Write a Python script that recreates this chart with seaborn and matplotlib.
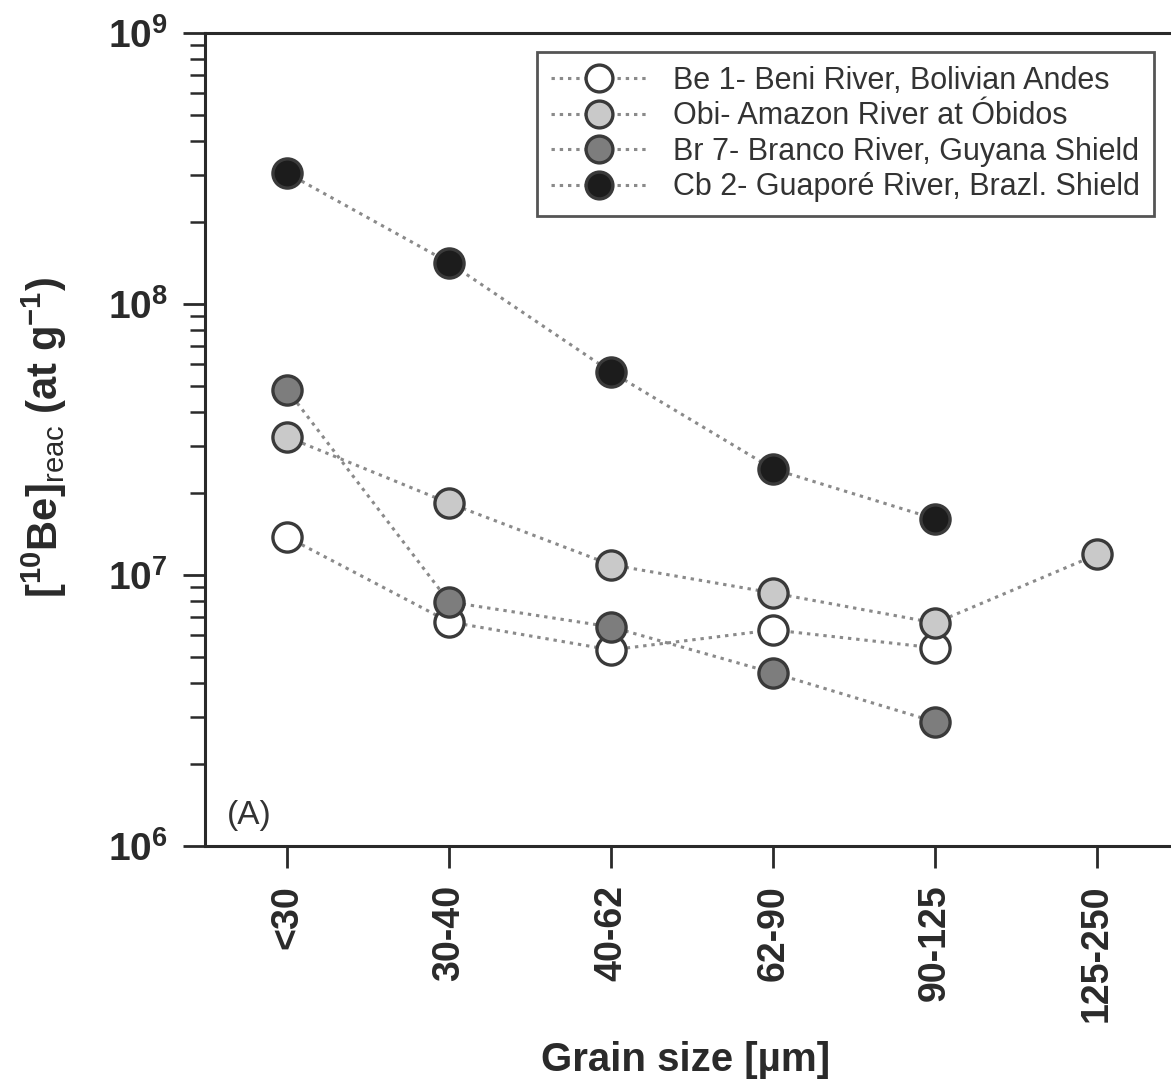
import numpy as np
import pandas as pd
import matplotlib
matplotlib.use("Agg")
import matplotlib.pyplot as plt
from matplotlib.ticker import LogLocator, FixedLocator, NullFormatter
import seaborn as sns

# Grain-size classes (µm) and reactive 10Be concentrations (at/g)
grain_sizes = ["<30", "30-40", "40-62", "62-90", "90-125", "125-250"]

be1 = [1.38e7, 6.71e6, 5.29e6, 6.27e6, 5.38e6]            # Be 1 - Beni River
obi = [3.23e7, 1.84e7, 1.09e7, 8.58e6, 6.65e6, 1.19e7]    # Obi - Amazon at Óbidos
br7 = [4.82e7, 7.95e6, 6.43e6, 4.35e6, 2.87e6]            # Br 7 - Branco River
cb2 = [3.04e8, 1.42e8, 5.61e7, 2.46e7, 1.61e7]            # Cb 2 - Guaporé River

series_labels = [
    "Be 1- Beni River, Bolivian Andes",
    "Obi- Amazon River at Óbidos",
    "Br 7- Branco River, Guyana Shield",
    "Cb 2- Guaporé River, Brazl. Shield",
]
series_values = [be1, obi, br7, cb2]
fill_colors = ["#ffffff", "#c9c9c9", "#7d7d7d", "#1c1c1c"]

rows = []
for lab, vals in zip(series_labels, series_values):
    for i, v in enumerate(vals):
        rows.append({"series": lab, "pos": i, "grain": grain_sizes[i], "conc": v})
df = pd.DataFrame(rows)

sns.set_theme(style="ticks")
plt.rcParams["font.family"] = ["Liberation Sans", "DejaVu Sans"]
plt.rcParams["mathtext.fontset"] = "custom"
plt.rcParams["mathtext.rm"] = "Liberation Sans"
plt.rcParams["mathtext.it"] = "Liberation Sans:italic"
plt.rcParams["mathtext.bf"] = "Liberation Sans:bold"

ink = "#2a2a2a"
fig = plt.figure(figsize=(11.71, 10.84), dpi=100)
ax = fig.add_axes([0.1751, 0.2196, 0.8260, 0.7500])

for lab, col in zip(series_labels, fill_colors):
    sub = df[df["series"] == lab]
    sns.lineplot(
        data=sub, x="pos", y="conc", ax=ax, label=lab,
        color="#8a8a8a", linewidth=2.2, linestyle=(0, (1.1, 1.6)),
        marker="o", markersize=21, markerfacecolor=col,
        markeredgecolor="#3a3a3a", markeredgewidth=2.4,
        sort=False, estimator=None, errorbar=None,
    )

ax.set_yscale("log")
ax.set_ylim(1e6, 1e9)
ax.set_xlim(-0.507, 5.464)

ax.yaxis.set_minor_locator(LogLocator(base=10, subs=np.arange(2, 10), numticks=20))
ax.yaxis.set_minor_formatter(NullFormatter())
ax.set_yticks([1e6, 1e7, 1e8, 1e9])
ax.set_yticklabels([r"$\mathbf{10^{%d}}$" % e for e in (6, 7, 8, 9)])

ax.xaxis.set_major_locator(FixedLocator(range(len(grain_sizes))))
ax.set_xticklabels(grain_sizes, rotation=90, fontsize=27, fontweight="bold", color=ink)

ax.tick_params(axis="y", which="major", length=16, width=2.0, color=ink,
               labelsize=28, labelcolor=ink, pad=11, direction="out")
ax.tick_params(axis="y", which="minor", length=11, width=1.8, color=ink, direction="out")
ax.tick_params(axis="x", which="major", length=16, width=2.0, color=ink,
               pad=12, direction="out")
ax.tick_params(axis="x", which="minor", bottom=False)

for side in ("left", "bottom", "top"):
    ax.spines[side].set_linewidth(2.2)
    ax.spines[side].set_color(ink)
ax.spines["right"].set_visible(False)

ax.set_xlabel("Grain size [µm]", fontsize=29, fontweight="bold", color=ink)
ax.xaxis.set_label_coords(0.497, -0.240)
ax.set_ylabel(r"$\mathbf{[^{10}Be]}_{\mathrm{reac}}\ \mathbf{(at\ g^{-1})}$",
              fontsize=30, color=ink)
ax.yaxis.set_label_coords(-0.141, 0.503)

ax.text(0.023, 0.018, "(A)", transform=ax.transAxes, fontsize=24,
        color="#333333", ha="left", va="bottom")

leg = ax.legend(
    loc="upper left", bbox_to_anchor=(0.3437, 0.9766), fontsize=22,
    frameon=True, fancybox=False, edgecolor="#555555", framealpha=1,
    handlelength=3.1, handletextpad=0.9, borderpad=0.45, labelspacing=0.18,
    markerscale=0.92, borderaxespad=0,
)
leg.get_frame().set_linewidth(2.0)
for t in leg.get_texts():
    t.set_color("#333333")

fig.savefig("out.png", dpi=100)
